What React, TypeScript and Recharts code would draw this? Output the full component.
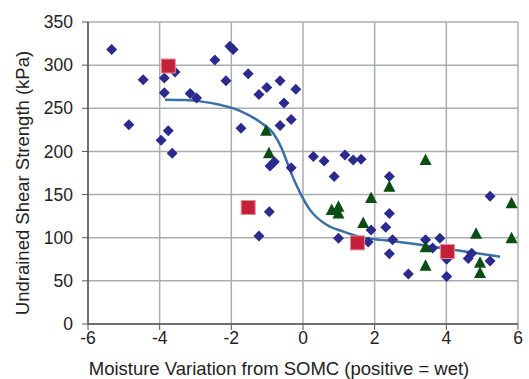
import {
    ComposedChart,
    Scatter,
    Line,
    XAxis,
    YAxis,
    CartesianGrid,
    Label,
} from "recharts";

// field data, blue diamonds
const diamondX = [
    -5.34, -4.46, -3.87, -3.57, -3.87, -3.15, -2.97, -4.86, -3.76, -3.96, -3.65,
    -2.46, -2.04, -1.95, -2.15, -1.53, -1.01, -1.23, -0.64, -0.2, -0.53, -0.33,
    -0.64, -1.73, -0.92, -0.8, -0.33, 0.29, 0.59, 1.17, 1.4, 1.62, 0.87, -0.94,
    -1.23, 0.99, 1.82, 1.9, 2.41, 5.22, 2.41, 2.31, 2.5, 2.41, 3.42, 3.62, 2.94,
    3.82, 4.01, 4.01, 4.71, 4.61, 5.22,
];
const diamondY = [
    318, 283, 285, 292, 268, 267, 262, 231, 224, 213, 198,
    306, 322, 318, 282, 290, 274, 266, 282, 272, 256, 237,
    230, 227, 183, 188, 181, 194, 189, 196, 190, 191, 171, 130,
    102, 99.5, 95, 109, 171, 148, 128, 112, 97.6, 81.4, 97.6, 88, 58,
    99.5, 75, 55, 82, 76, 73,
];

// green triangles
const triangleX = [-1.03, -0.95, 0.8, 0.99, 0.99, 1.9, 1.68, 2.41, 3.42, 5.82, 3.42, 3.42, 4.83, 4.94, 4.94, 5.82];
const triangleY = [224, 198, 132, 136, 128, 146, 117, 159, 190, 140, 89, 67.5, 104.5, 71, 59, 99.5];

// red squares
const squareX = [-3.76, -1.53, 1.52, 4.03];
const squareY = [299, 135, 94, 84];

// fitted curve
const curveX = [-3.85, -3.3, -2.87, -2.32, -1.76, -1.2, -0.83, -0.6, -0.45, -0.32, -0.08, 0.2, 0.66, 1.13, 1.59, 2.15, 2.52, 3.45, 4.38, 5.5];
const curveY = [260, 259.5, 258, 254, 247, 234, 221, 204, 188, 174, 152, 132, 115, 107, 101, 97.5, 96, 90.6, 85, 78];

const xTicks = [-6, -4, -2, 0, 2, 4, 6];
const yTicks = [0, 50, 100, 150, 200, 250, 300, 350];

const zip = (xs: number[], ys: number[]) => xs.map((x, i) => ({ x, y: ys[i] }));

const diamonds = zip(diamondX, diamondY);
const triangles = zip(triangleX, triangleY);
const squares = zip(squareX, squareY);
const curve = zip(curveX, curveY);

const font = "'Liberation Sans', Arial, sans-serif";

const Diamond = (p: any) => {
    const { cx, cy } = p;
    const r = 5.5;
    return (
        <polygon
            points={`${cx},${cy - r} ${cx + r},${cy} ${cx},${cy + r} ${cx - r},${cy}`}
            fill="#2b2b8e"
        />
    );
};

const Triangle = (p: any) => {
    const { cx, cy } = p;
    return (
        <polygon
            points={`${cx},${cy - 6.5} ${cx + 6},${cy + 5} ${cx - 6},${cy + 5}`}
            fill="#0b4d12"
        />
    );
};

const Square = (p: any) => {
    const { cx, cy } = p;
    const h = 7;
    return (
        <rect
            x={cx - h}
            y={cy - h}
            width={h * 2}
            height={h * 2}
            fill="#c4203a"
            stroke="#e58a96"
            strokeWidth={1}
        />
    );
};

// title sits a bit left of the plot centre in the original
const XTitle = ({ viewBox }: any) => (
    <text
        x={viewBox.x + viewBox.width / 2 - 24}
        y={viewBox.y + 44}
        textAnchor="middle"
        dominantBaseline="central"
        fill="#222"
        fontSize={18.5}
        fontFamily={font}
    >
        Moisture Variation from SOMC (positive = wet)
    </text>
);

const YTitle = ({ viewBox }: any) => {
    const x = 22;
    const y = viewBox.y + viewBox.height / 2 + 10;
    return (
        <text
            x={x}
            y={y}
            transform={`rotate(-90, ${x}, ${y})`}
            textAnchor="middle"
            dominantBaseline="central"
            fill="#222"
            fontSize={18.5}
            fontFamily={font}
        >
            Undrained Shear Strength (kPa)
        </text>
    );
};

export default function App() {
    return (
        <div style={{ position: "absolute", left: 0, top: 0, fontFamily: font }}>
            <ComposedChart
                width={529}
                height={379}
                margin={{ top: 22, right: 11, bottom: 0, left: 0 }}
            >
                <CartesianGrid stroke="#aaadb0" strokeWidth={1.5} />
                <XAxis
                    type="number"
                    dataKey="x"
                    domain={[-6, 6]}
                    ticks={xTicks}
                    height={55}
                    tickSize={6}
                    tickMargin={2}
                    tick={{ fill: "#222", fontSize: 17.5, fontFamily: font }}
                    axisLine={{ stroke: "#555", strokeWidth: 1.5 }}
                    tickLine={{ stroke: "#555" }}
                >
                    <Label content={XTitle} />
                </XAxis>
                <YAxis
                    type="number"
                    dataKey="y"
                    domain={[0, 350]}
                    ticks={yTicks}
                    width={88}
                    tickSize={6}
                    tickMargin={9}
                    tick={{ fill: "#222", fontSize: 17.5, fontFamily: font }}
                    axisLine={{ stroke: "#555", strokeWidth: 1.5 }}
                    tickLine={{ stroke: "#555" }}
                >
                    <Label content={YTitle} />
                </YAxis>
                <Scatter data={diamonds} shape={Diamond} isAnimationActive={false} />
                <Scatter data={triangles} shape={Triangle} isAnimationActive={false} />
                <Line
                    data={curve}
                    dataKey="y"
                    type="monotone"
                    stroke="#3a6fa8"
                    strokeWidth={2.5}
                    dot={false}
                    activeDot={false}
                    isAnimationActive={false}
                />
                <Scatter data={squares} shape={Square} isAnimationActive={false} />
            </ComposedChart>
        </div>
    );
}
